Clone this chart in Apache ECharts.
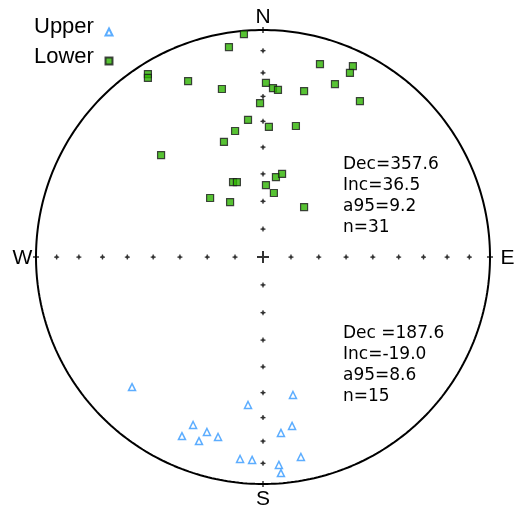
<!DOCTYPE html>
<html>
<head>
<meta charset="utf-8">
<script src="https://cdn.jsdelivr.net/npm/echarts@6/dist/echarts.min.js"></script>
<style>html,body{margin:0;padding:0;background:#fff}#c{width:514px;height:513px}</style>
</head>
<body>
<div id="c"></div>
<script>
// Projected positions (unit circle, equal-area)
var lowerX = [-0.084,-0.150,-0.507,-0.507,-0.330,-0.181,-0.013,-0.066,-0.123,0.013,0.044,0.066,0.251,0.396,0.383,0.317,0.181,0.427,0.026,0.145,-0.172,-0.449,-0.132,-0.115,0.057,0.084,0.013,0.048,-0.233,-0.145,0.181];
var lowerY = [0.982,0.925,0.806,0.789,0.775,0.740,0.678,0.604,0.555,0.767,0.744,0.736,0.850,0.841,0.811,0.762,0.731,0.687,0.573,0.577,0.507,0.449,0.330,0.330,0.352,0.366,0.317,0.282,0.260,0.242,0.220];
var upperX = [-0.577,0.132,-0.066,-0.308,0.128,-0.247,-0.357,0.079,-0.282,-0.198,-0.101,-0.048,0.167,0.070,0.079];
var upperY = [-0.573,-0.608,-0.652,-0.740,-0.744,-0.771,-0.789,-0.775,-0.811,-0.793,-0.890,-0.894,-0.881,-0.916,-0.952];
var tickInc = [10,20,30,40,50,60,70,80];
var seriesNames = ['Upper','Lower'];
var lowerStats = ['Dec=357.6','Inc=36.5','a95=9.2','n=31'];
var upperStats = ['Dec =187.6','Inc=-19.0','a95=8.6','n=15'];
var dirLabels = ['N','E','S','W'];

function zip(a,b){return a.map(function(v,i){return [v,b[i]];});}
var circle = [];
for (var a=0;a<=360;a+=1){circle.push([Math.sin(a*Math.PI/180),Math.cos(a*Math.PI/180)]);}
var ticks = [];
tickInc.forEach(function(I){
  var r = Math.SQRT2*Math.sin((90-I)/2*Math.PI/180);
  ticks.push([r,0],[-r,0],[0,r],[0,-r]);
});
var edgeTicks = [[0,1],[1,0],[0,-1],[-1,0]];

var FONT = '"Liberation Sans", Arial, sans-serif';
var SFONT = '"DejaVu Sans", sans-serif';
var chart = echarts.init(document.getElementById('c'));
var graphics = [];
function statBlock(lines, cy){
  lines.forEach(function(t,i){
    graphics.push({type:'text', x:343, y: cy + i*20.7, style:{text:t, fontSize:17, fontFamily:SFONT, fill:'#000', verticalAlign:'middle'}});
  });
}
statBlock(lowerStats, 165);
statBlock(upperStats, 334);
var dirPos = [[263,16],[507.5,257],[263,498.5],[22.5,257]];
dirLabels.forEach(function(t,i){
  graphics.push({type:'text', x:dirPos[i][0], y:dirPos[i][1]+1, style:{text:t, fontSize:21, fontFamily:FONT, fill:'#000', align:'center', verticalAlign:'middle'}});
});
seriesNames.forEach(function(t,i){
  graphics.push({type:'text', x:34, y:27 + i*30, style:{text:t, fontSize:22, fontFamily:FONT, fill:'#000', verticalAlign:'middle'}});
});

chart.setOption({
  animation:false,
  grid:{left:36, top:30, width:454, height:454},
  xAxis:{type:'value', min:-1, max:1, show:false},
  yAxis:{type:'value', min:-1, max:1, show:false},
  legend:{
    orient:'vertical', left:104.5, top:27.5, padding:0, itemGap:20,
    itemWidth:7, itemHeight:7,
    formatter:function(){return '';},
    textStyle:{fontSize:7, lineHeight:7, padding:0},
    data:seriesNames
  },
  graphic: graphics,
  series:[
    {type:'line', data:circle, symbol:'none', lineStyle:{color:'#000', width:2}, silent:true, z:1},
    {type:'scatter', data:ticks, symbol:'path://M0,1.5H4V2.5H0Z M1.5,0H2.5V4H1.5Z M1,1H3V3H1Z', symbolSize:5, itemStyle:{color:'#000'}, silent:true, z:2},
    {type:'scatter', data:edgeTicks, symbol:'path://M0,1.5H4V2.5H0Z M1.5,0H2.5V4H1.5Z', symbolSize:6, itemStyle:{color:'#000'}, silent:true, z:2},
    {type:'scatter', data:[[0,0]], symbol:'path://M0,5H12V7H0Z M5,0H7V12H5Z', symbolSize:12, itemStyle:{color:'#000'}, silent:true, z:2},
    {name:'Upper', type:'scatter', data:zip(upperX,upperY), symbol:'triangle', symbolSize:7,
      itemStyle:{color:'#fff', borderColor:'#3399ff', borderWidth:1.5}, z:3},
    {name:'Lower', type:'scatter', data:zip(lowerX,lowerY), symbol:'rect', symbolSize:7,
      itemStyle:{color:'#2db300', borderColor:'#1a1a1a', borderWidth:1.2}, z:3}
  ]
});
</script>
</body>
</html>
